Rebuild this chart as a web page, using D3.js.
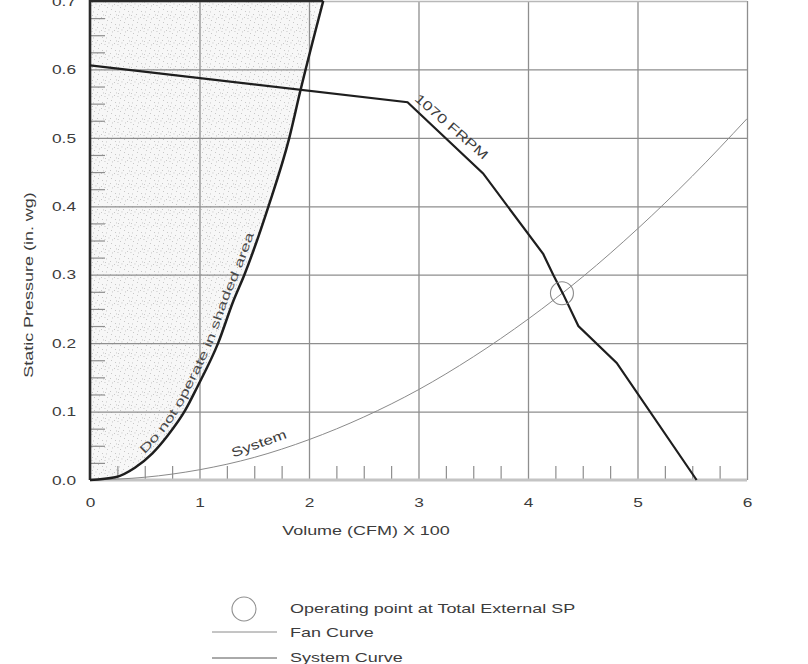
<!DOCTYPE html>
<html><head><meta charset="utf-8">
<script src="https://cdn.jsdelivr.net/npm/d3@7"></script>
<style>
html,body{margin:0;padding:0;background:#fff;}
svg{display:block;font-family:"Liberation Sans",Arial,Helvetica,sans-serif;}
</style></head>
<body>
<script>
// ---------- data ----------
const xTickValues = [0, 1, 2, 3, 4, 5, 6];
const xTickLabels = ["0", "1", "2", "3", "4", "5", "6"];
const yTickValues = [0, 0.1, 0.2, 0.3, 0.4, 0.5, 0.6, 0.7];
const yTickLabels = ["0.0", "0.1", "0.2", "0.3", "0.4", "0.5", "0.6", "0.7"];

// Fan curve, 1070 FRPM (volume x100 CFM, static pressure in. wg)
const fanX = [0, 2.9, 3.59, 4.14, 4.23, 4.32, 4.46, 4.81, 5.54];
const fanY = [0.606, 0.552, 0.448, 0.33, 0.30, 0.272, 0.225, 0.171, 0];

// "Do not operate" boundary (surge line)
const surgeX = [0, 0.23, 0.41, 0.57, 0.71, 0.87, 0.98, 1.17, 1.31, 1.41, 1.63, 1.82, 1.92, 2.13];
const surgeY = [0, 0.004, 0.018, 0.039, 0.065, 0.102, 0.136, 0.2, 0.262, 0.3, 0.4, 0.5, 0.568, 0.7];

// System curve
const sysX = [0, 0.5, 1, 1.5, 2, 2.5, 3, 3.5, 4, 4.5, 5, 5.5, 6];
const sysY = [0, 0.004, 0.015, 0.033, 0.059, 0.092, 0.132, 0.18, 0.235, 0.297, 0.367, 0.444, 0.528];

// Operating point
const opX = 4.31, opY = 0.273;

const fanLabel = "1070 FRPM";
const sysLabel = "System";
const surgeLabel = "Do not operate  in shaded area";
const xTitle = "Volume (CFM) X 100";
const yTitle = "Static Pressure (in. wg)";
const legendLabels = ["Operating point at Total External SP", "Fan Curve", "System Curve"];

// ---------- chart ----------
const W = 808, H = 664;
const svg = d3.select("body").append("svg").attr("width", W).attr("height", H);
const x = d3.scaleLinear().domain([0, 6]).range([90, 747]);
const y = d3.scaleLinear().domain([0, 0.7]).range([480, 1]);
const textColor = "#3c3c3c";
const gridColor = "#8e8e8e";

// stipple pattern
const defs = svg.append("defs");
const pat = defs.append("pattern").attr("id", "stipple").attr("patternUnits", "userSpaceOnUse")
  .attr("width", 13).attr("height", 13);
pat.append("rect").attr("width", 13).attr("height", 13).attr("fill", "#f7f7f7");
[[1,2],[6,1],[10,4],[3,7],[11,11],[7,9],[2,11.5],[8,5.5],[4.5,3.5],[12,1.5],[0.5,5]].forEach(p=>{
  pat.append("rect").attr("x",p[0]).attr("y",p[1]).attr("width",0.9).attr("height",0.9).attr("fill","#bdbdbd");
});

// shaded area
const surgePts = surgeX.map((v,i)=>[v, surgeY[i]]);
const shadePts = surgePts.concat([[0, 0.7]]);
svg.append("path")
  .attr("d", d3.line().x(d=>x(d[0])).y(d=>y(d[1])).curve(d3.curveLinearClosed)(shadePts))
  .attr("fill", "url(#stipple)");

// grid lines
const gx = svg.append("g").attr("transform", `translate(0,${y(0)})`)
  .call(d3.axisBottom(x).tickValues(xTickValues.slice(1)).tickSize(-(y(0)-y(0.7))).tickFormat(""));
gx.select(".domain").remove();
gx.selectAll("line").attr("stroke", gridColor).attr("stroke-width", 1.3);
const gy = svg.append("g").attr("transform", `translate(${x(0)},0)`)
  .call(d3.axisLeft(y).tickValues(yTickValues.slice(1)).tickSize(-(x(6)-x(0))).tickFormat(""));
gy.select(".domain").remove();
gy.selectAll("line").attr("stroke", gridColor).attr("stroke-width", 1.3);
gy.selectAll(".tick").filter(d=>d===0.7).select("line").attr("stroke","#b8b8b8");

// minor ticks
const xMinor = d3.range(0, 6.001, 0.25).filter(v => Math.abs(v - Math.round(v)) > 1e-6);
const yMinor = d3.range(0, 0.7001, 0.025).filter(v => Math.abs(v*10 - Math.round(v*10)) > 1e-6);
const mx = svg.append("g").attr("transform", `translate(0,${y(0)})`)
  .call(d3.axisBottom(x).tickValues(xMinor).tickSize(-14).tickFormat(""));
mx.select(".domain").remove();
mx.selectAll("line").attr("stroke", gridColor).attr("stroke-width", 1.2);
const my = svg.append("g").attr("transform", `translate(${x(0)},0)`)
  .call(d3.axisLeft(y).tickValues(yMinor).tickSize(-15).tickFormat(""));
my.select(".domain").remove();
my.selectAll("line").attr("stroke", gridColor).attr("stroke-width", 1.2);

// bottom axis line
svg.append("line").attr("x1", x(0)).attr("x2", x(6)).attr("y1", y(0)).attr("y2", y(0))
  .attr("stroke", "#c4c4c4").attr("stroke-width", 3);

// tick labels
const lx = svg.append("g").attr("transform", `translate(0,${y(0)})`)
  .call(d3.axisBottom(x).tickValues(xTickValues).tickSize(0).tickPadding(18)
    .tickFormat((d,i)=>xTickLabels[i]));
lx.select(".domain").remove();
lx.selectAll("text").attr("fill", textColor).attr("font-size", 13).attr("font-family", "Liberation Sans, Arial, sans-serif");
const ly = svg.append("g").attr("transform", `translate(${x(0)},0)`)
  .call(d3.axisLeft(y).tickValues(yTickValues).tickSize(0).tickPadding(14)
    .tickFormat((d,i)=>yTickLabels[i]));
ly.select(".domain").remove();
ly.selectAll("text").attr("fill", textColor).attr("font-size", 13).attr("font-family", "Liberation Sans, Arial, sans-serif");

// system curve
const sysPts = sysX.map((v,i)=>[v, sysY[i]]);
svg.append("path")
  .attr("d", d3.line().x(d=>x(d[0])).y(d=>y(d[1])).curve(d3.curveMonotoneX)(sysPts))
  .attr("fill", "none").attr("stroke", "#8a8a8a").attr("stroke-width", 1);

// shaded area boundary: left and top edges + surge curve
svg.append("path")
  .attr("d", d3.line().x(d=>x(d[0])).y(d=>y(d[1]))([[surgeX[surgeX.length-1], 0.7],[0,0.7],[0,0]]))
  .attr("fill", "none").attr("stroke", "#2a2a2a").attr("stroke-width", 2.6);
svg.append("path").attr("id", "surge")
  .attr("d", d3.line().x(d=>x(d[0])).y(d=>y(d[1])).curve(d3.curveMonotoneX)(surgePts))
  .attr("fill", "none").attr("stroke", "#1e1e1e").attr("stroke-width", 2.5);

// fan curve
const fanPts = fanX.map((v,i)=>[v, fanY[i]]);
svg.append("path")
  .attr("d", d3.line().x(d=>x(d[0])).y(d=>y(d[1]))(fanPts))
  .attr("fill", "none").attr("stroke", "#1e1e1e").attr("stroke-width", 2.2);

// operating point
svg.append("circle").attr("cx", x(opX)).attr("cy", y(opY)).attr("r", 11.5)
  .attr("fill", "none").attr("stroke", "#8a8a8a").attr("stroke-width", 1.1);

const stretch = 1.33;
function widen(sel) {
  sel.each(function() {
    const L = this.getComputedTextLength();
    if (L > 0) d3.select(this).attr("textLength", L * stretch).attr("lengthAdjust", "spacingAndGlyphs");
  });
}

// curve labels
const fa = fanPts[1];
svg.append("text").attr("class","wide")
  .attr("transform", `translate(${x(fa[0])},${y(fa[1])}) rotate(41)`)
  .attr("x", 3).attr("y", -6)
  .attr("font-size", 13).attr("fill", textColor).text(fanLabel);

const sa = 1.35;
const saY = sysY[2] + (sysY[3]-sysY[2])*(sa-1)/0.5;
svg.append("text").attr("class","wide")
  .attr("transform", `translate(${x(sa)},${y(saY)}) rotate(-20)`)
  .attr("x", -3).attr("y", -5)
  .attr("font-size", 13).attr("fill", textColor).text(sysLabel);

const st = svg.append("text").attr("font-size", 12).attr("fill", "#4a4a4a").attr("dy", -5);
st.append("textPath").attr("href", "#surge").attr("startOffset", 64)
  .attr("textLength", 250).attr("lengthAdjust", "spacingAndGlyphs").text(surgeLabel);

// axis titles
svg.append("text").attr("class","wide").attr("x", 366).attr("y", 535).attr("text-anchor", "middle")
  .attr("font-size", 13.5).attr("fill", textColor).text(xTitle);
svg.append("text").attr("class","wide").attr("transform", "translate(33,285) rotate(-90)")
  .attr("text-anchor", "middle").attr("font-size", 13.5).attr("fill", textColor).text(yTitle);

// legend
const lg = svg.append("g");
lg.append("circle").attr("cx", 244).attr("cy", 609).attr("r", 12)
  .attr("fill", "none").attr("stroke", "#909090").attr("stroke-width", 1.1);
lg.append("line").attr("x1", 212).attr("x2", 277).attr("y1", 632).attr("y2", 632)
  .attr("stroke", "#8a8a8a").attr("stroke-width", 1);
lg.append("line").attr("x1", 212).attr("x2", 277).attr("y1", 658).attr("y2", 658)
  .attr("stroke", "#555").attr("stroke-width", 1);
[613, 637, 662].forEach((yy, i) => {
  lg.append("text").attr("class","wide").attr("x", 290).attr("y", yy)
    .attr("font-size", 13.5).attr("fill", textColor).text(legendLabels[i]);
});

widen(svg.selectAll("text.wide"));
widen(lx.selectAll("text"));
widen(ly.selectAll("text"));
</script>
</body></html>
